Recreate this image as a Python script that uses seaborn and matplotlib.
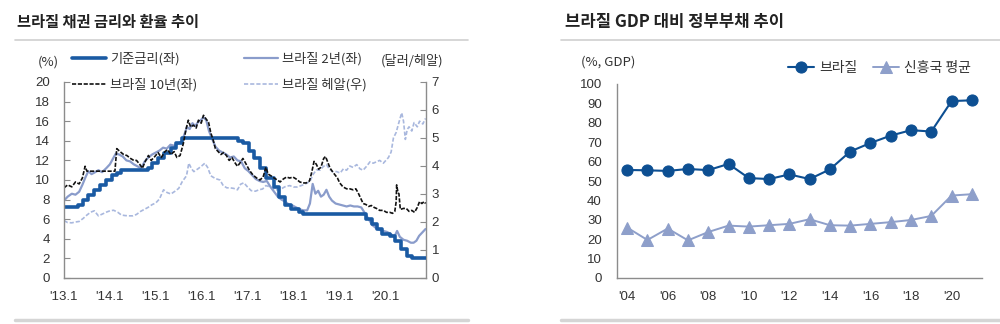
import numpy as np
import pandas as pd
import matplotlib
matplotlib.use("Agg")
import matplotlib.pyplot as plt
from matplotlib.lines import Line2D
import seaborn as sns

# ---------------- data: left chart ----------------
selic_t = [2013.00, 2013.30, 2013.41, 2013.53, 2013.66, 2013.78, 2013.91, 2014.04, 2014.16, 2014.25,
           2014.82, 2014.92, 2015.05, 2015.17, 2015.33, 2015.45, 2015.57, 2016.80, 2016.91, 2017.03,
           2017.15, 2017.28, 2017.41, 2017.57, 2017.69, 2017.82, 2017.94, 2018.12, 2018.21, 2019.58,
           2019.72, 2019.83, 2019.94, 2020.10, 2020.21, 2020.35, 2020.47, 2020.59, 2020.88]
selic_v = [7.25, 7.50, 8.00, 8.50, 9.00, 9.50, 10.00, 10.50, 10.75, 11.00,
           11.25, 11.75, 12.25, 12.75, 13.25, 13.75, 14.25, 14.00, 13.75, 13.00,
           12.25, 11.25, 10.25, 9.25, 8.25, 7.50, 7.00, 6.75, 6.50, 6.00,
           5.50, 5.00, 4.50, 4.25, 3.75, 3.00, 2.25, 2.00, 2.00]

y10_t = [2013.00, 2013.08, 2013.17, 2013.25, 2013.33, 2013.40, 2013.46, 2013.50, 2013.53, 2014.11,
         2014.15, 2014.22, 2014.30, 2014.37, 2014.45, 2014.52, 2014.58, 2014.65, 2014.71, 2014.76,
         2014.84, 2014.90, 2014.98, 2015.05, 2015.12, 2015.20, 2015.26, 2015.33, 2015.40, 2015.46,
         2015.53, 2015.60, 2015.66, 2015.71, 2015.76, 2015.82, 2015.88, 2015.93, 2015.99, 2016.04,
         2016.10, 2016.15, 2016.20, 2016.25, 2016.30, 2016.36, 2016.42, 2016.48, 2016.54, 2016.60,
         2016.66, 2016.72, 2016.78, 2016.83, 2016.90, 2016.96, 2017.04, 2017.12, 2017.20, 2017.27,
         2017.34, 2017.40, 2017.45, 2017.52, 2017.58, 2017.65, 2017.71, 2017.78, 2017.85, 2017.92,
         2017.99, 2018.06, 2018.14, 2018.21, 2018.28, 2018.35, 2018.40, 2018.45, 2018.50, 2018.55,
         2018.60, 2018.66, 2018.70, 2018.75, 2018.80, 2018.86, 2018.91, 2018.96, 2019.01, 2019.08,
         2019.16, 2019.23, 2019.30, 2019.36, 2019.41, 2019.46, 2019.52, 2019.58, 2019.64, 2019.70,
         2019.76, 2019.81, 2019.88, 2019.96, 2020.03, 2020.10, 2020.16, 2020.21, 2020.24, 2020.25,
         2020.28, 2020.30, 2020.33, 2020.40, 2020.46, 2020.52, 2020.58, 2020.64, 2020.70, 2020.75,
         2020.80, 2020.85, 2020.88]
y10_v = [9.2, 9.5, 9.3, 9.8, 9.6, 10.2, 11.4, 10.9, 10.9, 10.9,
         13.2, 12.9, 12.6, 12.5, 12.2, 12.0, 12.0, 11.6, 11.2, 11.8,
         12.5, 12.0, 12.4, 12.8, 12.3, 12.9, 13.1, 12.6, 12.9, 12.3,
         12.5, 13.7, 15.2, 16.1, 15.4, 15.6, 15.3, 16.1, 15.8, 16.6,
         16.2, 15.9, 14.8, 14.1, 13.2, 12.9, 12.6, 12.8, 12.5, 12.0,
         12.3, 11.8, 11.4, 11.7, 12.2, 11.7, 11.0, 10.5, 10.2, 10.0,
         10.3, 11.3, 10.6, 10.4, 10.2, 10.0, 9.8, 10.1, 10.3, 10.2,
         10.3, 10.1, 9.8, 9.7, 9.7, 9.9, 10.8, 11.9, 11.6, 11.1,
         11.3, 12.2, 12.4, 11.8, 11.2, 10.8, 10.5, 10.2, 9.7, 9.3,
         9.1, 9.1, 9.0, 9.1, 8.7, 8.2, 7.6, 7.5, 7.3, 7.4,
         7.2, 7.1, 6.9, 6.9, 6.7, 6.7, 6.6, 6.8, 7.8, 9.5,
         8.7, 8.6, 7.0, 7.1, 7.1, 6.8, 6.9, 6.7, 7.2, 7.8,
         7.6, 7.8, 7.6]

y2_t = [2013.00, 2013.08, 2013.17, 2013.25, 2013.33, 2013.40, 2013.47, 2013.53, 2013.60, 2013.68,
        2013.75, 2013.83, 2013.92, 2014.00, 2014.07, 2014.13, 2014.20, 2014.28, 2014.36, 2014.44,
        2014.52, 2014.60, 2014.68, 2014.76, 2014.84, 2014.92, 2015.00, 2015.08, 2015.16, 2015.24,
        2015.32, 2015.40, 2015.48, 2015.56, 2015.62, 2015.68, 2015.74, 2015.80, 2015.86, 2015.92,
        2015.98, 2016.04, 2016.10, 2016.16, 2016.22, 2016.30, 2016.38, 2016.46, 2016.54, 2016.62,
        2016.70, 2016.78, 2016.86, 2016.94, 2017.02, 2017.10, 2017.18, 2017.26, 2017.34, 2017.42,
        2017.50, 2017.58, 2017.66, 2017.74, 2017.82, 2017.90, 2017.98, 2018.06, 2018.14, 2018.22,
        2018.30, 2018.36, 2018.42, 2018.48, 2018.54, 2018.60, 2018.66, 2018.72, 2018.78, 2018.84,
        2018.92, 2019.00, 2019.08, 2019.16, 2019.24, 2019.32, 2019.40, 2019.48, 2019.56, 2019.64,
        2019.72, 2019.80, 2019.88, 2019.96, 2020.04, 2020.12, 2020.20, 2020.26, 2020.32, 2020.40,
        2020.48, 2020.56, 2020.62, 2020.68, 2020.74, 2020.80, 2020.88]
y2_v = [7.9, 8.3, 8.6, 8.5, 8.8, 9.5, 10.3, 10.9, 10.6, 10.8,
        11.0, 10.8, 11.2, 11.6, 12.2, 12.7, 12.6, 12.4, 12.0, 11.9,
        11.6, 11.4, 11.2, 11.9, 12.3, 12.6, 12.8, 13.0, 13.3, 13.2,
        13.6, 13.5, 13.7, 13.9, 14.6, 15.4, 15.2, 15.8, 15.5, 15.9,
        16.1, 16.4, 16.1, 15.0, 14.3, 13.4, 13.0, 12.8, 12.6, 12.3,
        12.4, 12.0, 11.9, 11.2, 10.9, 10.5, 10.1, 9.9, 9.8, 9.9,
        9.3, 8.8, 8.3, 8.0, 7.8, 7.5, 7.4, 7.2, 7.0, 6.9,
        6.9, 7.6, 9.6, 8.6, 8.9, 8.3, 8.5, 9.0, 8.3, 7.9,
        7.6, 7.5, 7.4, 7.3, 7.4, 7.3, 7.3, 7.2, 6.6, 6.0,
        5.4, 5.1, 4.9, 4.8, 4.7, 4.5, 4.2, 4.8, 4.2, 3.9,
        3.8, 3.6, 3.6, 3.8, 4.3, 4.6, 5.0]

fx_t = [2013.00, 2013.08, 2013.17, 2013.25, 2013.33, 2013.42, 2013.50, 2013.58, 2013.66, 2013.75,
        2013.83, 2013.92, 2014.00, 2014.08, 2014.17, 2014.25, 2014.33, 2014.42, 2014.50, 2014.58,
        2014.67, 2014.75, 2014.83, 2014.92, 2015.00, 2015.08, 2015.17, 2015.25, 2015.33, 2015.42,
        2015.50, 2015.58, 2015.67, 2015.72, 2015.78, 2015.83, 2015.92, 2016.00, 2016.07, 2016.13,
        2016.20, 2016.30, 2016.40, 2016.47, 2016.55, 2016.62, 2016.70, 2016.78, 2016.85, 2016.92,
        2017.00, 2017.08, 2017.17, 2017.25, 2017.33, 2017.40, 2017.50, 2017.58, 2017.67, 2017.75,
        2017.83, 2017.92, 2018.00, 2018.08, 2018.17, 2018.25, 2018.36, 2018.43, 2018.50, 2018.58,
        2018.65, 2018.72, 2018.78, 2018.85, 2018.94, 2019.02, 2019.09, 2019.16, 2019.23, 2019.30,
        2019.38, 2019.45, 2019.52, 2019.60, 2019.67, 2019.74, 2019.81, 2019.88, 2019.96, 2020.07,
        2020.13, 2020.18, 2020.24, 2020.29, 2020.36, 2020.40, 2020.44, 2020.48, 2020.52, 2020.58,
        2020.63, 2020.70, 2020.75, 2020.82, 2020.88]
fx_v = [2.05, 1.98, 1.97, 2.00, 2.02, 2.13, 2.25, 2.35, 2.40, 2.22,
        2.28, 2.35, 2.40, 2.42, 2.35, 2.25, 2.23, 2.22, 2.22, 2.27,
        2.38, 2.45, 2.52, 2.62, 2.68, 2.82, 3.15, 3.05, 3.00, 3.10,
        3.20, 3.45, 3.65, 4.10, 3.90, 3.80, 3.90, 4.00, 4.10, 3.95,
        3.65, 3.55, 3.50, 3.30, 3.22, 3.22, 3.20, 3.15, 3.35, 3.40,
        3.25, 3.12, 3.10, 3.15, 3.18, 3.30, 3.25, 3.15, 3.15, 3.20,
        3.27, 3.30, 3.25, 3.25, 3.30, 3.35, 3.45, 3.70, 3.86, 3.85,
        3.98, 4.05, 3.90, 3.80, 3.80, 3.75, 3.90, 3.85, 4.00, 3.95,
        4.05, 3.90, 3.85, 4.00, 4.15, 4.10, 4.15, 4.20, 4.10, 4.30,
        4.50, 5.00, 5.20, 5.50, 5.90, 5.60, 4.95, 5.30, 5.40, 5.25,
        5.55, 5.40, 5.60, 5.50, 5.70]

left_xticks = [2013, 2014, 2015, 2016, 2017, 2018, 2019, 2020]
left_xlabels = ["'13.1", "'14.1", "'15.1", "'16.1", "'17.1", "'18.1", "'19.1", "'20.1"]

# ---------------- data: right chart ----------------
years = list(range(2004, 2022))
brazil = [55.7, 55.5, 55.2, 56.2, 55.6, 58.8, 51.5, 51.0, 53.4, 51.0,
          56.0, 65.2, 69.6, 73.4, 76.2, 75.5, 91.2, 91.6]
em_avg = [26.0, 19.6, 25.5, 19.4, 23.7, 27.0, 26.5, 27.2, 27.9, 30.3,
          27.2, 27.0, 27.9, 28.8, 29.9, 32.0, 42.5, 43.2]
right_xlabels = ["'04", "'06", "'08", "'10", "'12", "'14", "'16", "'18", "'20"]

# ---------------- style ----------------
sns.set_style("white")
plt.rcParams['font.family'] = ['Noto Sans CJK KR', 'DejaVu Sans']
plt.rcParams['axes.unicode_minus'] = False
NARROW = ['Liberation Sans Narrow', 'Liberation Sans', 'DejaVu Sans']

C_SELIC = '#1a5aa3'
C_2Y = '#8a9ccb'
C_10Y = '#111111'
C_FX = '#a9b8de'
C_BR = '#0d4f92'
C_EM = '#8e9fca'
SPINE = '#8c8c8c'
TXT = '#333333'

fig = plt.figure(figsize=(10, 3.24), dpi=100)
H = 324.0
W = 1000.0

def fx_(px):
    return px / W

def fy_(py):
    return 1 - py / H

# ---------------- left chart ----------------
ax1 = fig.add_axes([fx_(64), fy_(278), (426 - 64) / W, (278 - 82) / H])
ax1r = ax1.twinx()

sns.lineplot(x=fx_t, y=fx_v, ax=ax1r, color=C_FX, linewidth=1.2, estimator=None, sort=False)
l_fx = ax1r.lines[-1]
l_fx.set_dashes((2.5, 1.2))

sns.lineplot(x=y2_t, y=y2_v, ax=ax1, color=C_2Y, linewidth=1.6, estimator=None, sort=False)
l_2y = ax1.lines[-1]
sns.lineplot(x=selic_t, y=selic_v, ax=ax1, color=C_SELIC, linewidth=2.6, estimator=None,
             sort=False, drawstyle='steps-post')
l_selic = ax1.lines[-1]
sns.lineplot(x=y10_t, y=y10_v, ax=ax1, color=C_10Y, linewidth=1.2, estimator=None, sort=False)
l_10y = ax1.lines[-1]
l_10y.set_dashes((2.5, 1.0))

ax1.set_zorder(ax1r.get_zorder() + 1)
ax1.patch.set_visible(False)

ax1.set_xlim(2013.0, 2020.89)
ax1.set_ylim(0, 20)
ax1r.set_ylim(0, 7)
ax1.set_yticks(range(0, 21, 2))
ax1r.set_yticks(range(0, 8))
ax1.set_xticks(left_xticks)
ax1.set_xticklabels(left_xlabels)
ax1.set_xlabel('')
ax1.set_ylabel('')
ax1r.set_ylabel('')

for a in (ax1, ax1r):
    for s in a.spines.values():
        s.set_color(SPINE)
        s.set_linewidth(1.0)
    a.spines['top'].set_visible(False)
ax1.spines['right'].set_visible(False)
ax1r.spines['left'].set_visible(False)
ax1r.spines['bottom'].set_visible(False)

ax1.tick_params(axis='x', direction='in', length=4, color=SPINE, pad=9, labelsize=9.5, labelcolor=TXT)
ax1.tick_params(axis='y', direction='in', length=4, color=SPINE, pad=10, labelsize=9.5, labelcolor=TXT)
ax1r.tick_params(axis='y', direction='in', length=4, color=SPINE, pad=4, labelsize=9.5, labelcolor=TXT)
for lab in ax1.get_xticklabels() + ax1.get_yticklabels() + ax1r.get_yticklabels():
    lab.set_fontfamily(NARROW)

leg1 = fig.legend([l_selic, l_10y, l_2y, l_fx],
                  ['기준금리(좌)', '브라질 10년(좌)', '브라질 2년(좌)', '브라질 헤알(우)'],
                  ncol=2, loc='upper left', bbox_to_anchor=(fx_(72), fy_(52)),
                  frameon=False, fontsize=9.5, handlelength=2.6, handletextpad=0.3,
                  columnspacing=3.5, labelspacing=0.95, borderpad=0, borderaxespad=0)
for t in leg1.get_texts():
    t.set_color(TXT)

fig.text(fx_(48), fy_(62), '(%)', ha='center', va='center', fontsize=9.5, color=TXT)
fig.text(fx_(412), fy_(61), '(달러/헤알)', ha='center', va='center', fontsize=9.5, color=TXT)

# ---------------- right chart ----------------
ax2 = fig.add_axes([fx_(617), fy_(278), (982 - 617) / W, (278 - 84) / H])
sns.lineplot(x=years, y=em_avg, ax=ax2, color=C_EM, linewidth=1.4, marker='^',
             markersize=8, markeredgecolor=C_EM, markerfacecolor=C_EM, estimator=None)
l_em = ax2.lines[-1]
sns.lineplot(x=years, y=brazil, ax=ax2, color=C_BR, linewidth=1.5, marker='o',
             markersize=8, markeredgecolor=C_BR, markerfacecolor=C_BR, estimator=None)
l_br = ax2.lines[-1]

ax2.set_xlim(2003.5, 2021.5)
ax2.set_ylim(0, 100)
ax2.set_yticks(range(0, 101, 10))
ax2.set_xticks(np.arange(2003.5, 2022, 2))
ax2.set_xticklabels([])
ax2.set_xticks(years[::2], minor=True)
ax2.set_xticklabels(right_xlabels, minor=True)
ax2.set_xlabel('')
ax2.set_ylabel('')
for s in ('top', 'right'):
    ax2.spines[s].set_visible(False)
for s in ('left', 'bottom'):
    ax2.spines[s].set_color(SPINE)
    ax2.spines[s].set_linewidth(1.0)
ax2.tick_params(axis='x', which='major', direction='in', length=4, color=SPINE)
ax2.tick_params(axis='x', which='minor', length=0, pad=9, labelsize=9.5, labelcolor=TXT)
ax2.tick_params(axis='y', direction='in', length=3, color=SPINE, pad=11, labelsize=9.5, labelcolor=TXT)
for lab in ax2.get_xticklabels(minor=True) + ax2.get_yticklabels():
    lab.set_fontfamily(NARROW)

leg2 = fig.legend([l_br, l_em], ['브라질', '신흥국 평균'], ncol=2, loc='center left',
                  bbox_to_anchor=(fx_(788), fy_(68)), frameon=False, fontsize=10,
                  handlelength=1.9, handletextpad=0.35, columnspacing=1.1,
                  borderpad=0, borderaxespad=0)
for t in leg2.get_texts():
    t.set_color(TXT)

fig.text(fx_(608), fy_(62), '(%, GDP)', ha='center', va='center', fontsize=9.5, color=TXT)

# ---------------- titles & separators ----------------
fig.text(fx_(17), fy_(22), '브라질 채권 금리와 환율 추이', ha='left', va='center',
         fontsize=11, fontweight='bold', color='#222222')
fig.text(fx_(565), fy_(22), '브라질 GDP 대비 정부부채 추이', ha='left', va='center',
         fontsize=12, fontweight='bold', color='#222222')
for x0, x1 in ((15, 468), (561, 1000)):
    fig.add_artist(Line2D([fx_(x0), fx_(x1)], [fy_(40), fy_(40)], color='#cfcfcf', linewidth=1.2))
    fig.add_artist(Line2D([fx_(x0), fx_(x1)], [fy_(320), fy_(320)], color='#d5d5d5', linewidth=2.5))

fig.savefig('out.png', dpi=100)
